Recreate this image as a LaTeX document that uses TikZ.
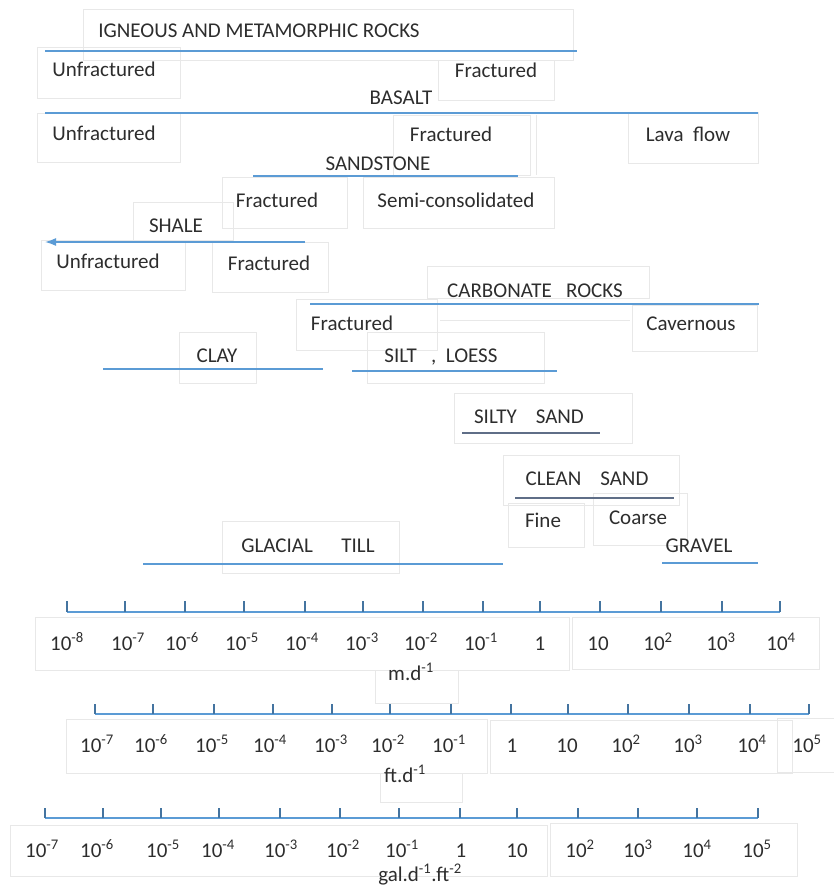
\documentclass[tikz,border=0pt]{standalone}
\usepackage{fontspec}
\setmainfont{Carlito}
\usetikzlibrary{arrows.meta}
\definecolor{barblue}{RGB}{91,155,213}
\definecolor{bardark}{RGB}{95,110,135}
\definecolor{framegray}{RGB}{232,232,232}
\definecolor{inkgray}{RGB}{45,45,45}
\begin{document}
\begin{tikzpicture}[x=1pt,y=-1pt,
  lbl/.style={anchor=base,inner sep=0pt,text=inkgray,font=\fontsize{21}{25}\selectfont},
  num/.style={anchor=base,inner sep=0pt,text=inkgray,font=\fontsize{21}{25}\selectfont},
  bar/.style={draw=barblue,line width=1.5pt},
  darkbar/.style={draw=bardark,line width=1.3pt},
  tickline/.style={draw=barblue!75!black,line width=1.1pt},
  frame/.style={draw=framegray,line width=0.9pt}]
 \useasboundingbox (0,0) rectangle (834,888);
 \draw[frame](83,9) rectangle (573,60);
 \draw[frame](37,47) rectangle (180,98);
 \draw[frame](180,60)--(438,60);
 \draw[frame](438,60) rectangle (554,100);
 \draw[frame](37,113) rectangle (180,162);
 \draw[frame](393,115) rectangle (530,175);
 \draw[frame](536,115)--(536,175);
 \draw[frame](628,112) rectangle (758,163);
 \draw[frame](222,177) rectangle (347,228);
 \draw[frame](363,177) rectangle (554,228);
 \draw[frame](133,202) rectangle (233,240);
 \draw[frame](41,240) rectangle (185,290);
 \draw[frame](212,242) rectangle (328,292);
 \draw[frame](427,266) rectangle (649,298);
 \draw[frame](296,299) rectangle (437,350);
 \draw[frame](440,320)--(630,320);
 \draw[frame](632,305) rectangle (757,351);
 \draw[frame](179,332) rectangle (256,383);
 \draw[frame](367,332) rectangle (544,383);
 \draw[frame](454,393) rectangle (632,443);
 \draw[frame](503,455) rectangle (679,505);
 \draw[frame](508,503) rectangle (584,547);
 \draw[frame](593,493) rectangle (687,545);
 \draw[frame](222,521) rectangle (399,573);
 \draw[frame](35,617) rectangle (569,670);
 \draw[frame](572,617) rectangle (819,669);
 \draw[frame](375,670) rectangle (458,703);
 \draw[frame](66,719) rectangle (487,773);
 \draw[frame](490,720) rectangle (792,773);
 \draw[frame](777,718) rectangle (834,772);
 \draw[frame](380,773) rectangle (462,802);
 \draw[frame](10,825) rectangle (547,876);
 \draw[frame](550,823) rectangle (797,876);

 \node[lbl] (igneous) at (259,38) {IGNEOUS AND METAMORPHIC ROCKS};
 \node[lbl] (ignunfr) at (104,77) {Unfractured};
 \node[lbl] (ignfrac) at (496,78) {Fractured};
 \node[lbl] (basalt) at (401,105) {BASALT};
 \node[lbl] (basunfr) at (104,140) {Unfractured};
 \node[lbl] (basfrac) at (451,142) {Fractured};
 \node[lbl] (lava) at (688,142) {Lava\ \ flow};
 \node[lbl] (sandstone) at (378,170) {SANDSTONE};
 \node[lbl] (sstfrac) at (277,207) {Fractured};
 \node[lbl] (semicons) at (456,207) {Semi-consolidated};
 \node[lbl] (shale) at (176,232) {SHALE};
 \node[lbl] (shunfr) at (108,268) {Unfractured};
 \node[lbl] (shfrac) at (269,270) {Fractured};
 \node[lbl] (carbonate) at (535,297) {CARBONATE\ \ \ ROCKS};
 \node[lbl] (carbfrac) at (352,330) {Fractured};
 \node[lbl] (cavern) at (691,330) {Cavernous};
 \node[lbl] (clay) at (217,362) {CLAY};
 \node[lbl] (silt) at (441,362) {SILT\ \ \ ,\ \ LOESS};
 \node[lbl] (siltysand) at (529,423) {SILTY\ \ \ \ SAND};
 \node[lbl] (cleansand) at (587,485) {CLEAN\ \ \ \ SAND};
 \node[lbl] (fine) at (543,527) {Fine};
 \node[lbl] (coarse) at (638,524) {Coarse};
 \node[lbl] (gravel) at (699,552) {GRAVEL};
 \node[lbl] (till) at (308,552) {GLACIAL\ \ \ \ \ \ TILL};

 \draw[bar](45,51)--(577,51);
 \draw[bar](45,113)--(758,113);
 \draw[bar](253,176)--(518,176);
 \coordinate (shalestart) at (305,242);
 \coordinate (shaleend) at (45,242);
 \draw[bar,-{Latex[length=11pt,width=8pt]}](shalestart)--(shaleend);
 \draw[bar](310,304)--(759,304);
 \draw[bar](103,369)--(323,369);
 \draw[bar](352,371)--(557,371);
 \draw[darkbar](462,433)--(600,433);
 \draw[darkbar](515,498)--(674,498);
 \draw[bar](143,564)--(503,564);
 \draw[bar](662,563)--(758,563);

 \draw[bar](67,612)--(780,612);
 \draw[tickline](67,601)--(67,612) (125,601)--(125,612) (185,601)--(185,612) (244,601)--(244,612) (305,601)--(305,612) (363,601)--(363,612) (423,601)--(423,612) (483,601)--(483,612) (540,601)--(540,612) (600,601)--(600,612) (661,601)--(661,612) (722,601)--(722,612) (780,601)--(780,612);
 \node[num] (ma) at (67,650) {10\textsuperscript{-8}};
 \node[num] (mb) at (128,650) {10\textsuperscript{-7}};
 \node[num] (mc) at (182,650) {10\textsuperscript{-6}};
 \node[num] (md) at (242,650) {10\textsuperscript{-5}};
 \node[num] (me) at (302,650) {10\textsuperscript{-4}};
 \node[num] (mf) at (362,650) {10\textsuperscript{-3}};
 \node[num] (mg) at (421,650) {10\textsuperscript{-2}};
 \node[num] (mh) at (481,650) {10\textsuperscript{-1}};
 \node[num] (mi) at (540,650) {1};
 \node[num] (mj) at (598,650) {10};
 \node[num] (mk) at (658,650) {10\textsuperscript{2}};
 \node[num] (ml) at (721,650) {10\textsuperscript{3}};
 \node[num] (mm) at (781,650) {10\textsuperscript{4}};
 \node[lbl] (munit) at (411,680) {m.d\textsuperscript{-1}};

 \draw[bar](95,714)--(809,714);
 \draw[tickline](95,704)--(95,714) (153,704)--(153,714) (214,704)--(214,714) (273,704)--(273,714) (332,704)--(332,714) (390,704)--(390,714) (451,704)--(451,714) (511,704)--(511,714) (568,704)--(568,714) (628,704)--(628,714) (689,704)--(689,714) (750,704)--(750,714) (809,704)--(809,714);
 \node[num] (fa) at (97,752) {10\textsuperscript{-7}};
 \node[num] (fb) at (151,752) {10\textsuperscript{-6}};
 \node[num] (fc) at (212,752) {10\textsuperscript{-5}};
 \node[num] (fd) at (270,752) {10\textsuperscript{-4}};
 \node[num] (fe) at (331,752) {10\textsuperscript{-3}};
 \node[num] (ff) at (388,752) {10\textsuperscript{-2}};
 \node[num] (fg) at (449,752) {10\textsuperscript{-1}};
 \node[num] (fh) at (512,752) {1};
 \node[num] (fi) at (567,752) {10};
 \node[num] (fj) at (626,752) {10\textsuperscript{2}};
 \node[num] (fk) at (688,752) {10\textsuperscript{3}};
 \node[num] (fl) at (752,752) {10\textsuperscript{4}};
 \node[num] (fm) at (807,752) {10\textsuperscript{5}};
 \node[lbl] (funit) at (405,782) {ft.d\textsuperscript{-1}};

 \draw[bar](45,818)--(758,818);
 \draw[tickline](45,808)--(45,818) (103,808)--(103,818) (161,808)--(161,818) (219,808)--(219,818) (280,808)--(280,818) (340,808)--(340,818) (399,808)--(399,818) (460,808)--(460,818) (517,808)--(517,818) (578,808)--(578,818) (638,808)--(638,818) (697,808)--(697,818) (758,808)--(758,818);
 \node[num] (ga) at (42,857) {10\textsuperscript{-7}};
 \node[num] (gb) at (97,857) {10\textsuperscript{-6}};
 \node[num] (gc) at (163,857) {10\textsuperscript{-5}};
 \node[num] (gd) at (218,857) {10\textsuperscript{-4}};
 \node[num] (ge) at (281,857) {10\textsuperscript{-3}};
 \node[num] (gf) at (343,857) {10\textsuperscript{-2}};
 \node[num] (gg) at (402,857) {10\textsuperscript{-1}};
 \node[num] (gh) at (461,857) {1};
 \node[num] (gi) at (517,857) {10};
 \node[num] (gj) at (580,857) {10\textsuperscript{2}};
 \node[num] (gk) at (638,857) {10\textsuperscript{3}};
 \node[num] (gl) at (697,857) {10\textsuperscript{4}};
 \node[num] (gm) at (757,857) {10\textsuperscript{5}};
 \node[lbl] (gunit) at (420,881) {gal.d\textsuperscript{-1}.ft\textsuperscript{-2}};
\end{tikzpicture}
\end{document}
